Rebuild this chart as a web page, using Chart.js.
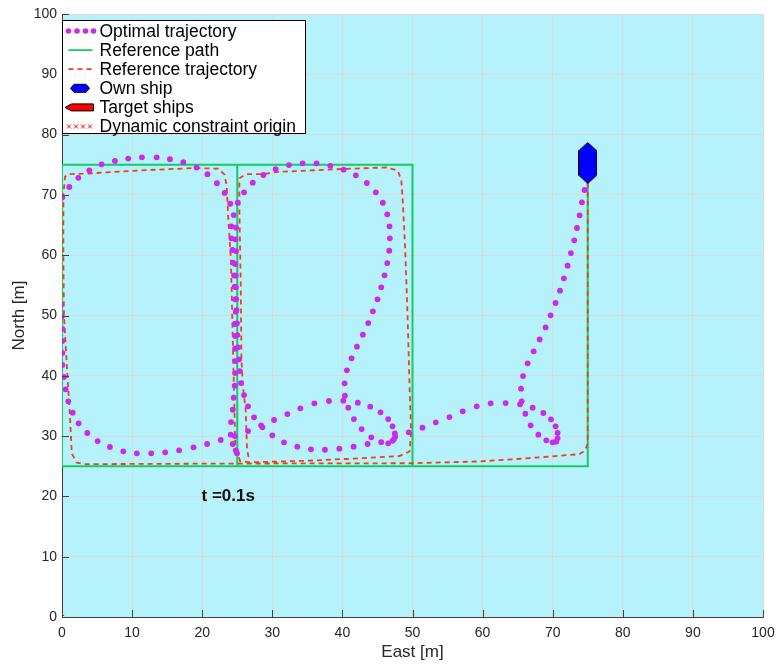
<!DOCTYPE html>
<html>
<head>
<meta charset="utf-8">
<script src="https://cdn.jsdelivr.net/npm/chart.js@4.4.1/dist/chart.umd.min.js"></script>
<style>
  html, body { margin: 0; padding: 0; background: #fff; }
  canvas { display: block; }
</style>
</head>
<body>
<canvas id="grafico" width="777" height="666"></canvas>
<script>
// Ticks dos eixos
const ticksX = [0, 10, 20, 30, 40, 50, 60, 70, 80, 90, 100];
const ticksY = [0, 10, 20, 30, 40, 50, 60, 70, 80, 90, 100];

// Rótulos
const labelX = 'East [m]';
const labelY = 'North [m]';
const labelTempo = 't =0.1s';
const posTempo = [19.9, 20.0];

// Optimal trajectory
const optimalPts = [
  [74.55, 70.81], [74.17, 68.77], [73.84, 66.61], [73.46, 64.51], [73.08, 62.46], [72.6, 60.36],
  [72.12, 58.26], [71.6, 56.16], [71.04, 54.11], [70.41, 52.07], [69.7, 50.03], [68.99, 48.03],
  [68.14, 46.03], [67.28, 44.06], [66.43, 42.07], [65.77, 39.96], [65.48, 37.86], [65.57, 35.77],
  [66.1, 33.71], [66.85, 31.78], [67.95, 30.23], [69.09, 29.3], [69.99, 28.97], [70.5, 29.07],
  [70.7, 29.63], [70.7, 30.51], [70.41, 31.62], [69.76, 32.78], [68.66, 33.83], [67.14, 34.71],
  [65.34, 35.27], [63.29, 35.48], [61.15, 35.43], [59.16, 34.93], [57.17, 34.11], [55.27, 33.16],
  [53.32, 32.28], [51.42, 31.39], [49.47, 30.63],
  [47.53, 29.9], [47.34, 29.46], [47.15, 29.23], [46.53, 28.8], [45.54, 29.0], [44.12, 29.8],
  [42.74, 31.17], [41.64, 32.83], [40.84, 34.71], [40.36, 36.7], [40.31, 38.75], [40.64, 40.9],
  [41.31, 42.89], [42.07, 44.83], [42.92, 46.82], [43.69, 48.75], [44.35, 50.69], [45.01, 52.68],
  [45.54, 54.67], [46.01, 56.66], [46.4, 58.7], [46.68, 60.74], [46.77, 62.8], [46.72, 64.79],
  [46.4, 66.78], [45.77, 68.7], [44.77, 70.43], [43.49, 71.97], [41.92, 73.24], [40.17, 74.18],
  [38.27, 74.83], [36.32, 75.23], [34.33, 75.23], [32.38, 74.95], [30.48, 74.29], [28.73, 73.3],
  [27.21, 72.02], [25.97, 70.43], [25.07, 68.7], [24.5, 66.66],
  [24.83, 64.56], [24.74, 62.63], [24.83, 60.69], [24.74, 58.53], [24.8, 56.6], [24.8, 54.7],
  [24.85, 52.7], [24.9, 50.9], [24.97, 48.7], [25.03, 46.76], [25.11, 44.72], [25.26, 42.73],
  [25.36, 40.79], [25.54, 38.8], [25.97, 36.81], [26.54, 34.93], [27.39, 33.11], [28.59, 31.45],
  [28.4, 31.78], [30.25, 32.67], [32.15, 33.66], [34.0, 34.61], [36.0, 35.43], [38.08, 35.82],
  [40.13, 35.87], [42.2, 35.53], [43.97, 34.88], [45.44, 33.94], [46.53, 32.83], [47.15, 31.62],
  [47.48, 30.45],
  [43.59, 28.69], [41.6, 28.24], [39.56, 27.91], [37.51, 27.74], [35.52, 27.8], [33.57, 28.24],
  [31.67, 28.97], [30.01, 30.13], [26.54, 30.83],
  [24.17, 64.79], [24.17, 62.8], [24.31, 60.86], [24.4, 58.75], [24.55, 56.66], [24.64, 54.78],
  [24.69, 52.68], [24.79, 50.63], [24.64, 48.59], [24.69, 46.6], [24.69, 44.49], [24.69, 42.45],
  [24.69, 40.46], [24.64, 38.35], [24.5, 36.36], [24.36, 34.37], [24.12, 32.33], [24.07, 30.23],
  [24.64, 30.01], [24.36, 28.69], [24.79, 27.64], [24.97, 27.14],
  [22.65, 29.35], [20.7, 28.69], [18.76, 28.14], [16.71, 27.64], [14.72, 27.31], [12.73, 27.14],
  [10.68, 27.14], [8.74, 27.47], [6.84, 28.19], [5.08, 29.18], [3.61, 30.51], [2.37, 32.12],
  [1.52, 33.88], [0.9, 35.77], [0.52, 37.76], [0.28, 39.8], [0.05, 41.79], [0.05, 43.78],
  [0.05, 45.77], [0.05, 47.76], [-0.05, 49.8], [-0.14, 51.73],
  [0.05, 69.6], [1.04, 71.31], [2.33, 72.83], [3.89, 74.07], [5.65, 75.07], [7.55, 75.63],
  [9.45, 76.03], [11.4, 76.23], [13.5, 76.23], [15.4, 75.93], [17.3, 75.43], [19.2, 74.53],
  [20.75, 73.43], [22.1, 71.93], [23.2, 70.33], [24.0, 68.53]
];

// Reference path (waypoints)
const refPathPts = [[75, 75], [75, 25], [0, 25], [0, 75], [25, 75], [25, 25], [50, 25], [50, 75], [25, 75]];

// Reference trajectory
const refTrajPts = [
  [75, 75], [75, 50], [75, 28.8], [74.6, 27.6], [73.8, 27.0],
  [65, 26.2], [59.5, 25.8], [50, 25.5], [25, 25.45], [3.3, 25.35], [2.1, 25.6], [1.4, 27.1],
  [1.14, 33.2], [0.67, 42.0], [0.28, 50], [0.19, 60], [0.2, 70], [0.43, 73.0], [0.9, 73.45],
  [3.75, 73.55], [10.9, 74.05], [18.9, 74.45], [22.3, 74.35], [23.2, 73.35], [23.5, 71.35],
  [23.7, 66.45], [24.1, 59.2], [24.4, 44.2], [24.6, 34.35], [24.7, 28.85], [25.4, 25.85], [26.8, 25.65],
  [35.8, 25.95], [42.9, 26.35], [48.15, 26.7], [49.57, 27.45],
  [49.8, 30.45], [49.57, 38.75], [49.3, 49.85], [48.96, 60.85], [48.6, 69.15], [48.4, 72.45], [47.9, 74.05], [46.25, 74.55],
  [40.07, 74.3], [33.4, 73.95], [30.6, 73.8], [28.7, 73.45], [26.3, 73.45], [25.3, 72.75],
  [25.3, 68.05], [25.5, 55], [25.6, 42.65], [25.8, 38.25], [26.2, 34.35], [26.4, 27.75], [26.7, 26.05]
];

// Navios e origem da restrição
const ownShipPts = [[75, 75.3]];
const targetShipPts = [];
const constraintPts = [[0, 0]];

// Cores
const corFundo = '#b6f2fb';
const corGrade = '#dadada';
const corEixo = '#404040';
const corTexto = '#262626';
const corOtima = 'rgb(204, 40, 240)';
const corCaminho = '#14cc66';
const corRef = '#f53c14';
const corNavio = '#0000ff';
const corAlvo = '#ff0000';

const fonte = "'Liberation Sans', Arial, sans-serif";

function pontos(lista) {
  return lista.map(p => ({ x: p[0], y: p[1] }));
}

// Navio (desenho vertical usado como pointStyle)
function criarNavio() {
  const c = document.createElement('canvas');
  c.width = 19;
  c.height = 42;
  const g = c.getContext('2d');
  g.beginPath();
  g.moveTo(9.5, 0.5);
  g.lineTo(18.5, 8.8);
  g.lineTo(18.5, 33.2);
  g.lineTo(9.5, 41.5);
  g.lineTo(0.5, 33.2);
  g.lineTo(0.5, 8.8);
  g.closePath();
  g.fillStyle = corNavio;
  g.fill();
  g.strokeStyle = '#000';
  g.lineWidth = 1;
  g.stroke();
  return c;
}

// Fundo da área do gráfico
const fundoPlugin = {
  id: 'fundo',
  beforeDraw(chart) {
    const { ctx, chartArea: a } = chart;
    ctx.save();
    ctx.fillStyle = '#fff';
    ctx.fillRect(0, 0, chart.width, chart.height);
    ctx.fillStyle = corFundo;
    ctx.fillRect(a.left, a.top, a.right - a.left, a.bottom - a.top);
    ctx.restore();
  }
};

// Ticks para dentro, texto do tempo e legenda
const extrasPlugin = {
  id: 'extras',
  afterDraw(chart) {
    const { ctx, chartArea: a } = chart;
    const sx = chart.scales.x;
    const sy = chart.scales.y;
    ctx.save();

    // ticks
    ctx.strokeStyle = corEixo;
    ctx.lineWidth = 1;
    ctx.beginPath();
    ticksX.forEach(v => {
      const px = Math.round(sx.getPixelForValue(v)) + 0.5;
      ctx.moveTo(px, a.bottom);
      ctx.lineTo(px, a.bottom - 7);
    });
    ticksY.forEach(v => {
      const py = Math.round(sy.getPixelForValue(v)) + 0.5;
      ctx.moveTo(a.left, py);
      ctx.lineTo(a.left + 7, py);
    });
    ctx.stroke();

    // texto do tempo
    ctx.fillStyle = '#111';
    ctx.font = "bold 17px " + fonte;
    ctx.textAlign = 'left';
    ctx.textBaseline = 'middle';
    ctx.fillText(labelTempo, sx.getPixelForValue(posTempo[0]), sy.getPixelForValue(posTempo[1]));

    // legenda
    const lx = a.left + 0.5;
    const ly = a.top + 6.5;
    const lw = 243;
    const lh = 113;
    ctx.fillStyle = '#fff';
    ctx.fillRect(lx, ly, lw, lh);
    ctx.strokeStyle = '#000';
    ctx.lineWidth = 1;
    ctx.strokeRect(lx, ly, lw, lh);

    ctx.font = "17.5px " + fonte;
    chart.data.datasets.forEach((ds, i) => {
      const cy = ly + 10.5 + i * 19.1;
      desenharIcone(ctx, ds.icone, lx, cy);
      ctx.fillStyle = '#000';
      ctx.textAlign = 'left';
      ctx.textBaseline = 'middle';
      ctx.fillText(ds.label, lx + 37, cy + 1);
    });
    ctx.restore();
  }
};

function desenharIcone(ctx, tipo, lx, cy) {
  ctx.save();
  if (tipo === 'pontos') {
    ctx.fillStyle = corOtima;
    [6, 14.5, 23, 31].forEach(dx => {
      ctx.beginPath();
      ctx.arc(lx + dx, cy, 2.8, 0, Math.PI * 2);
      ctx.fill();
    });
  } else if (tipo === 'linha') {
    ctx.strokeStyle = corCaminho;
    ctx.lineWidth = 1.8;
    ctx.beginPath();
    ctx.moveTo(lx + 6, cy);
    ctx.lineTo(lx + 30, cy);
    ctx.stroke();
  } else if (tipo === 'tracejado') {
    ctx.strokeStyle = corRef;
    ctx.lineWidth = 1.7;
    ctx.setLineDash([5, 4]);
    ctx.beginPath();
    ctx.moveTo(lx + 6, cy);
    ctx.lineTo(lx + 30, cy);
    ctx.stroke();
  } else if (tipo === 'navio') {
    ctx.beginPath();
    ctx.moveTo(lx + 8, cy);
    ctx.lineTo(lx + 11.5, cy - 4);
    ctx.lineTo(lx + 23.5, cy - 4);
    ctx.lineTo(lx + 27, cy);
    ctx.lineTo(lx + 23.5, cy + 4);
    ctx.lineTo(lx + 11.5, cy + 4);
    ctx.closePath();
    ctx.fillStyle = corNavio;
    ctx.fill();
    ctx.strokeStyle = '#000';
    ctx.stroke();
  } else if (tipo === 'alvo') {
    ctx.beginPath();
    ctx.moveTo(lx + 2.5, cy);
    ctx.lineTo(lx + 9, cy - 3.5);
    ctx.lineTo(lx + 31, cy - 3.5);
    ctx.lineTo(lx + 31, cy + 3.5);
    ctx.lineTo(lx + 9, cy + 3.5);
    ctx.closePath();
    ctx.fillStyle = corAlvo;
    ctx.fill();
    ctx.strokeStyle = '#000';
    ctx.stroke();
  } else if (tipo === 'xis') {
    ctx.strokeStyle = corAlvo;
    ctx.lineWidth = 1;
    [6.5, 13.5, 20.5, 27.5].forEach(dx => {
      ctx.beginPath();
      ctx.moveTo(lx + dx - 2, cy - 2);
      ctx.lineTo(lx + dx + 2, cy + 2);
      ctx.moveTo(lx + dx + 2, cy - 2);
      ctx.lineTo(lx + dx - 2, cy + 2);
      ctx.stroke();
    });
  }
  ctx.restore();
}

const eixoComum = {
  type: 'linear',
  min: 0,
  max: 100,
  grid: { color: corGrade, lineWidth: 1, drawTicks: false },
  border: { display: true, color: corEixo, width: 1 },
  ticks: {
    color: corTexto,
    font: { family: fonte, size: 14 },
    callback: v => String(v)
  }
};

new Chart(document.getElementById('grafico'), {
  type: 'scatter',
  data: {
    datasets: [
      {
        label: 'Optimal trajectory',
        icone: 'pontos',
        data: pontos(optimalPts),
        showLine: false,
        pointRadius: 2.9,
        pointBorderWidth: 0,
        pointBackgroundColor: corOtima,
        order: 3
      },
      {
        label: 'Reference path',
        icone: 'linha',
        data: pontos(refPathPts),
        showLine: true,
        borderColor: corCaminho,
        borderWidth: 2,
        pointRadius: 0,
        order: 5
      },
      {
        label: 'Reference trajectory',
        icone: 'tracejado',
        data: pontos(refTrajPts),
        showLine: true,
        borderColor: corRef,
        borderWidth: 1.8,
        borderDash: [5, 4],
        pointRadius: 0,
        order: 4
      },
      {
        label: 'Own ship',
        icone: 'navio',
        data: pontos(ownShipPts),
        pointStyle: criarNavio(),
        pointRadius: 10,
        order: 0
      },
      {
        label: 'Target ships',
        icone: 'alvo',
        data: pontos(targetShipPts),
        pointRadius: 0,
        order: 1
      },
      {
        label: 'Dynamic constraint origin',
        icone: 'xis',
        data: pontos(constraintPts),
        pointStyle: 'crossRot',
        pointRadius: 3,
        pointBorderColor: corAlvo,
        pointBorderWidth: 1,
        order: 2
      }
    ]
  },
  options: {
    responsive: false,
    animation: false,
    events: [],
    layout: { padding: { top: 14, right: 14, left: 0, bottom: 0 } },
    scales: {
      x: {
        ...eixoComum,
        position: 'bottom',
        ticks: { ...eixoComum.ticks, padding: 8, maxRotation: 0 },
        title: { display: true, text: labelX, color: corTexto, font: { family: fonte, size: 17 }, padding: { top: 2, bottom: 3 } },
        afterBuildTicks: s => { s.ticks = ticksX.map(v => ({ value: v })); },
        afterFit: s => { s.height = 49; s.paddingLeft = 0; s.paddingRight = 0; }
      },
      y: {
        ...eixoComum,
        position: 'left',
        ticks: { ...eixoComum.ticks, padding: 5 },
        title: { display: true, text: labelY, color: corTexto, font: { family: fonte, size: 17 }, padding: { top: 9, bottom: 2 } },
        afterBuildTicks: s => { s.ticks = ticksY.map(v => ({ value: v })); },
        afterFit: s => { s.width = 62; s.paddingTop = 0; s.paddingBottom = 0; }
      }
    },
    plugins: {
      legend: { display: false },
      tooltip: { enabled: false }
    }
  },
  plugins: [fundoPlugin, extrasPlugin]
});
</script>
</body>
</html>
